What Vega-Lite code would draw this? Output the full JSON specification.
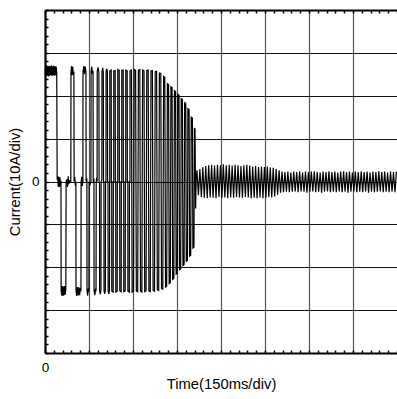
{
  "$schema": "https://vega.github.io/schema/vega-lite/v6.json",
  "width": 352,
  "height": 343,
  "autosize": "none",
  "padding": {"left": 45, "top": 10, "right": 0, "bottom": 46},
  "background": "white",
  "config": {
    "view": {"stroke": null},
    "font": "Liberation Sans",
    "axis": {
      "labelFont": "Liberation Sans",
      "titleFont": "Liberation Sans",
      "labelColor": "black",
      "titleColor": "black",
      "titleFontWeight": "normal",
      "domainColor": "black",
      "tickColor": "black",
      "labelFlush": false,
      "labelOverlap": false,
      "labelBound": false
    }
  },
  "data": {
    "values": [
      {"t": 0.5, "v": 25.0}, {"t": 2, "v": 26.9}, {"t": 4, "v": 24.6}, {"t": 6, "v": 27.1}, {"t": 8, "v": 24.7},
      {"t": 10, "v": 26.9}, {"t": 12, "v": 24.5}, {"t": 14, "v": 27.0}, {"t": 16, "v": 24.7}, {"t": 18, "v": 26.9},
      {"t": 20, "v": 24.8}, {"t": 22, "v": 27.1}, {"t": 24, "v": 24.6}, {"t": 26, "v": 26.9}, {"t": 28, "v": 24.8},
      {"t": 30, "v": 27.0}, {"t": 32, "v": 24.7}, {"t": 34, "v": 26.9}, {"t": 36, "v": 24.8}, {"t": 38, "v": 26.8},
      {"t": 40, "v": 25.4},
      {"t": 41.5, "v": 0.4}, {"t": 43, "v": 1.3}, {"t": 45, "v": -1.2}, {"t": 47, "v": 1.1}, {"t": 49, "v": -1.3},
      {"t": 51, "v": 1.0}, {"t": 53, "v": -1.1}, {"t": 54.5, "v": 0.2},
      {"t": 55, "v": -25.4}, {"t": 57, "v": -26.6}, {"t": 59, "v": -24.4}, {"t": 61, "v": -26.7}, {"t": 63, "v": -24.5},
      {"t": 65, "v": -26.5}, {"t": 67, "v": -24.4}, {"t": 69, "v": -26.4}, {"t": 71, "v": -25.2},
      {"t": 72, "v": 0}, {"t": 75, "v": 0.5}, {"t": 77, "v": -1.3}, {"t": 79, "v": 1.2}, {"t": 81, "v": -0.6},
      {"t": 84, "v": 0.2}, {"t": 88, "v": 0},
      {"t": 88.6, "v": 25.4}, {"t": 90.5, "v": 26.9}, {"t": 92.5, "v": 24.8}, {"t": 94.5, "v": 26.8}, {"t": 96.5, "v": 24.9},
      {"t": 98.5, "v": 25.6},
      {"t": 99.3, "v": 0}, {"t": 101.5, "v": 1.1}, {"t": 103.5, "v": -1.0}, {"t": 105.3, "v": 0},
      {"t": 105.7, "v": -25.5}, {"t": 108, "v": -26.7}, {"t": 110.5, "v": -24.6}, {"t": 113, "v": -26.6},
      {"t": 115.5, "v": -24.7}, {"t": 118, "v": -26.5}, {"t": 120.5, "v": -24.8}, {"t": 122.6, "v": -25.6},
      {"t": 123.2, "v": 0}, {"t": 125, "v": 1.1}, {"t": 127, "v": -1.0}, {"t": 129.2, "v": 0},
      {"t": 129.5, "v": 25.5}, {"t": 132, "v": 26.9}, {"t": 134.5, "v": 25.0}, {"t": 137, "v": 26.8}, {"t": 139.6, "v": 25.6},
      {"t": 140.2, "v": 0}, {"t": 142.8, "v": 0.7},
      {"t": 143.2, "v": -25.4}, {"t": 145.5, "v": -26.6}, {"t": 147.8, "v": -24.9}, {"t": 149.8, "v": -25.7},
      {"t": 150.4, "v": 0}, {"t": 153, "v": -0.9}, {"t": 156.6, "v": 0},
      {"t": 157, "v": 25.6}, {"t": 159.5, "v": 26.8}, {"t": 161.8, "v": 25.1}, {"t": 163.8, "v": 25.8},
      {"t": 164.4, "v": 0}, {"t": 166.9, "v": 0.3},
      {"t": 167.3, "v": -25.5}, {"t": 170, "v": -26.5}, {"t": 172.5, "v": -25.0}, {"t": 174, "v": -25.6},
      {"t": 174.6, "v": 0}, {"t": 176.5, "v": 0.9}, {"t": 177.7, "v": 0},
      {"t": 178, "v": 25.7}, {"t": 181, "v": 26.6}, {"t": 183.8, "v": 25.4},
      {"t": 184.4, "v": 0}, {"t": 185.9, "v": -0.4},
      {"t": 186.2, "v": -25.5}, {"t": 188.8, "v": -26.3}, {"t": 190.8, "v": -25.3},
      {"t": 191.4, "v": 0}, {"t": 193.8, "v": 0.3},
      {"t": 194.2, "v": 25.6}, {"t": 196.8, "v": 26.5}, {"t": 198.8, "v": 25.5},
      {"t": 199.4, "v": 0}, {"t": 200.8, "v": 0},
      {"t": 201.2, "v": -25.6}, {"t": 203.8, "v": -26.2}, {"t": 205.8, "v": -25.3},
      {"t": 206.4, "v": 0}, {"t": 207.8, "v": 0},
      {"t": 208.2, "v": 25.7}, {"t": 210.8, "v": 26.3}, {"t": 212.8, "v": 25.5},
      {"t": 213.3, "v": 0}, {"t": 214.8, "v": 0},
      {"t": 215.2, "v": -25.5}, {"t": 217.8, "v": -26.2}, {"t": 219.8, "v": -25.4},
      {"t": 220.3, "v": 0}, {"t": 220.8, "v": 0},
      {"t": 220.9, "v": 25.8}, {"t": 225.7, "v": 26.0}, {"t": 226.2, "v": 0}, {"t": 227.5, "v": 0},
      {"t": 227.7, "v": -25.6}, {"t": 232.5, "v": -25.8}, {"t": 233, "v": 0}, {"t": 234.3, "v": 0},
      {"t": 234.5, "v": 25.8}, {"t": 239.3, "v": 25.9}, {"t": 239.8, "v": 0}, {"t": 241.1, "v": 0},
      {"t": 241.35, "v": -25.8}, {"t": 246.15, "v": -25.6}, {"t": 246.6, "v": 0}, {"t": 248, "v": 0},
      {"t": 248.2, "v": 26.1}, {"t": 253, "v": 25.9}, {"t": 253.5, "v": 0}, {"t": 254.8, "v": 0},
      {"t": 255.0, "v": -25.5}, {"t": 259.8, "v": -25.7}, {"t": 260.3, "v": 0}, {"t": 261.6, "v": 0},
      {"t": 261.8, "v": 25.9}, {"t": 266.6, "v": 26.0}, {"t": 267.1, "v": 0}, {"t": 268.4, "v": 0},
      {"t": 268.6, "v": -25.7}, {"t": 273.4, "v": -25.5}, {"t": 273.9, "v": 0}, {"t": 275.2, "v": 0},
      {"t": 275.4, "v": 26.0}, {"t": 280.2, "v": 25.8}, {"t": 280.7, "v": 0}, {"t": 282.4, "v": 0},
      {"t": 282.6, "v": -25.6}, {"t": 287.4, "v": -25.8}, {"t": 287.9, "v": 0}, {"t": 289.6, "v": 0},
      {"t": 289.8, "v": 25.8}, {"t": 294.6, "v": 26.0}, {"t": 297.0, "v": -25.8}, {"t": 301.7, "v": -25.6},
      {"t": 304.1, "v": 26.1}, {"t": 308.9, "v": 25.9}, {"t": 311.3, "v": -25.5}, {"t": 316.0, "v": -25.7},
      {"t": 318.4, "v": 25.9}, {"t": 323.2, "v": 26.1}, {"t": 325.6, "v": -25.6}, {"t": 330.3, "v": -25.8},
      {"t": 332.7, "v": 26.0}, {"t": 337.5, "v": 25.8}, {"t": 339.9, "v": -25.7}, {"t": 344.6, "v": -25.5},
      {"t": 347.0, "v": 25.9}, {"t": 351.8, "v": 26.0}, {"t": 354.2, "v": -25.5}, {"t": 358.9, "v": -25.7},
      {"t": 361.3, "v": 25.8}, {"t": 366.1, "v": 25.9}, {"t": 368.5, "v": -25.4}, {"t": 373.3, "v": -25.6},
      {"t": 375.7, "v": 25.6}, {"t": 380.5, "v": 25.7}, {"t": 382.9, "v": -25.2}, {"t": 387.6, "v": -25.4},
      {"t": 390.0, "v": 25.3}, {"t": 394.8, "v": 25.2}, {"t": 397.2, "v": -25.0}, {"t": 401.6, "v": -25.1},
      {"t": 404.4, "v": 24.5}, {"t": 408.4, "v": 24.3}, {"t": 410.9, "v": -24.6}, {"t": 414.8, "v": -24.4},
      {"t": 417.3, "v": 22.8}, {"t": 421.3, "v": 22.6}, {"t": 423.3, "v": -23.8}, {"t": 427.2, "v": -23.6},
      {"t": 429.2, "v": 22.1}, {"t": 433.2, "v": 21.9}, {"t": 435.2, "v": -22.8}, {"t": 439.2, "v": -22.6},
      {"t": 441.2, "v": 21.2}, {"t": 445.2, "v": 21.0}, {"t": 447.0, "v": -21.6}, {"t": 451.0, "v": -21.4},
      {"t": 452.8, "v": 20.3}, {"t": 456.8, "v": 20.1}, {"t": 458.6, "v": -20.6}, {"t": 462.6, "v": -20.4},
      {"t": 464.4, "v": 19.3}, {"t": 468.4, "v": 19.1}, {"t": 470.2, "v": -19.6}, {"t": 474.2, "v": -19.4},
      {"t": 476.0, "v": 18.4}, {"t": 480.0, "v": 18.2}, {"t": 481.6, "v": -18.6}, {"t": 485.6, "v": -18.4},
      {"t": 487.2, "v": 17.0}, {"t": 491.2, "v": 16.8}, {"t": 492.9, "v": -17.4}, {"t": 496.8, "v": -17.2},
      {"t": 498.5, "v": 15.0}, {"t": 502.5, "v": 14.8}, {"t": 504.2, "v": -15.5}, {"t": 507.8, "v": -15.3},
      {"t": 509.5, "v": 12.5}, {"t": 511.5, "v": 12.2}, {"t": 513.5, "v": -6.3}, {"t": 515.5, "v": 0.8},
      {"t": 518, "v": 2.6}, {"t": 523, "v": -3.2}, {"t": 528, "v": 2.9}, {"t": 533, "v": -3.6}, {"t": 538, "v": 3.3},
      {"t": 543, "v": -3.8}, {"t": 548, "v": 3.6}, {"t": 553, "v": -3.9}, {"t": 558, "v": 3.8}, {"t": 563, "v": -3.7},
      {"t": 568, "v": 3.9}, {"t": 573, "v": -3.8}, {"t": 578, "v": 3.7}, {"t": 583, "v": -3.9}, {"t": 588, "v": 3.9},
      {"t": 593, "v": -3.6}, {"t": 598, "v": 3.8}, {"t": 603, "v": -3.8}, {"t": 608, "v": 4.0}, {"t": 613, "v": -3.7},
      {"t": 618, "v": 3.8}, {"t": 623, "v": -3.9}, {"t": 628, "v": 3.9}, {"t": 633, "v": -3.7}, {"t": 638, "v": 3.7},
      {"t": 643, "v": -3.8}, {"t": 648, "v": 3.9}, {"t": 653, "v": -3.6}, {"t": 658, "v": 3.8}, {"t": 663, "v": -3.7},
      {"t": 668, "v": 3.6}, {"t": 673, "v": -3.8}, {"t": 678, "v": 3.8}, {"t": 683, "v": -3.6}, {"t": 688, "v": 3.9},
      {"t": 693, "v": -3.7}, {"t": 698, "v": 3.7}, {"t": 703, "v": -3.9}, {"t": 708, "v": 3.5}, {"t": 713, "v": -3.8},
      {"t": 718, "v": 3.6}, {"t": 723, "v": -3.9}, {"t": 728, "v": 3.4}, {"t": 733, "v": -3.7}, {"t": 738, "v": 3.5},
      {"t": 743, "v": -3.9}, {"t": 748, "v": 3.4}, {"t": 753, "v": -3.8}, {"t": 758, "v": 3.5}, {"t": 763, "v": -3.6},
      {"t": 768, "v": 3.3}, {"t": 773, "v": -3.7}, {"t": 778, "v": 3.2}, {"t": 783, "v": -3.5}, {"t": 788, "v": 2.9},
      {"t": 793, "v": -3.1}, {"t": 798, "v": 2.6},
      {"t": 803, "v": -2.6}, {"t": 808, "v": 2.3}, {"t": 813, "v": -2.5}, {"t": 818, "v": 2.2}, {"t": 823, "v": -2.4},
      {"t": 828, "v": 2.3}, {"t": 833, "v": -2.5}, {"t": 838, "v": 2.1}, {"t": 843, "v": -2.4}, {"t": 848, "v": 2.3},
      {"t": 853, "v": -2.3}, {"t": 858, "v": 2.2}, {"t": 863, "v": -2.5}, {"t": 868, "v": 2.4}, {"t": 873, "v": -2.3},
      {"t": 878, "v": 2.1}, {"t": 883, "v": -2.4}, {"t": 888, "v": 2.3}, {"t": 893, "v": -2.6}, {"t": 898, "v": 2.2},
      {"t": 903, "v": -2.4}, {"t": 908, "v": 2.3}, {"t": 913, "v": -2.3}, {"t": 918, "v": 2.4}, {"t": 923, "v": -2.5},
      {"t": 928, "v": 2.2}, {"t": 933, "v": -2.4}, {"t": 938, "v": 2.1}, {"t": 943, "v": -2.6}, {"t": 948, "v": 2.3},
      {"t": 953, "v": -2.4}, {"t": 958, "v": 2.2}, {"t": 963, "v": -2.3}, {"t": 968, "v": 2.4}, {"t": 973, "v": -2.5},
      {"t": 978, "v": 2.2}, {"t": 983, "v": -2.4}, {"t": 988, "v": 2.3}, {"t": 993, "v": -2.5}, {"t": 998, "v": 2.1},
      {"t": 1003, "v": -2.3}, {"t": 1008, "v": 2.3}, {"t": 1013, "v": -2.5}, {"t": 1018, "v": 2.4}, {"t": 1023, "v": -2.4},
      {"t": 1028, "v": 2.2}, {"t": 1033, "v": -2.6}, {"t": 1038, "v": 2.3}, {"t": 1043, "v": -2.4}, {"t": 1048, "v": 2.1},
      {"t": 1053, "v": -2.3}, {"t": 1058, "v": 2.3}, {"t": 1063, "v": -2.5}, {"t": 1068, "v": 2.2}, {"t": 1073, "v": -2.4},
      {"t": 1078, "v": 2.4}, {"t": 1083, "v": -2.5}, {"t": 1088, "v": 2.2}, {"t": 1093, "v": -2.3}, {"t": 1098, "v": 2.3},
      {"t": 1103, "v": -2.6}, {"t": 1108, "v": 2.1}, {"t": 1113, "v": -2.4}, {"t": 1118, "v": 2.3}, {"t": 1123, "v": -2.5},
      {"t": 1128, "v": 2.2}, {"t": 1133, "v": -2.4}, {"t": 1138, "v": 2.4}, {"t": 1143, "v": -2.3}, {"t": 1148, "v": 2.2},
      {"t": 1153, "v": -2.5}, {"t": 1158, "v": 2.3}, {"t": 1163, "v": -2.4}, {"t": 1168, "v": 2.1}, {"t": 1173, "v": -2.5},
      {"t": 1178, "v": 2.3}, {"t": 1183, "v": -2.4}, {"t": 1188, "v": 2.2}, {"t": 1193, "v": -2.5}, {"t": 1198, "v": 2.3}
    ]
  },
  "encoding": {
    "x": {"field": "t", "type": "quantitative", "scale": {"domain": [0, 1200], "nice": false, "zero": false}},
    "y": {"field": "v", "type": "quantitative", "scale": {"domain": [-40, 40], "nice": false}}
  },
  "layer": [
    {
      "description": "division grid: 150 ms and 10 A per division",
      "mark": {"type": "line", "opacity": 0},
      "encoding": {
        "x": {"field": "t", "type": "quantitative", "axis": {
          "orient": "bottom", "values": [150, 300, 450, 600, 750, 900, 1050],
          "grid": true, "gridColor": "#555555", "gridWidth": 1.2, "gridOpacity": 1,
          "domain": false, "ticks": false, "labels": false, "title": null}},
        "y": {"field": "v", "type": "quantitative", "axis": {
          "orient": "left", "values": [-30, -20, -10, 0, 10, 20, 30],
          "grid": true, "gridColor": "#111111", "gridWidth": 1, "gridOpacity": 1,
          "domain": false, "ticks": false, "labels": false, "title": null}}
      }
    },
    {
      "description": "current trace",
      "mark": {"type": "line", "color": "black", "strokeWidth": 1.2, "interpolate": "linear"},
      "encoding": {
        "x": {"field": "t", "type": "quantitative", "axis": {
          "orient": "bottom",
          "values": [0, 30, 60, 90, 120, 150, 180, 210, 240, 270, 300, 330, 360, 390, 420, 450, 480, 510, 540, 570, 600, 630, 660, 690, 720, 750, 780, 810, 840, 870, 900, 930, 960, 990, 1020, 1050, 1080, 1110, 1140, 1170, 1200],
          "grid": false, "domain": true, "domainWidth": 2.2, "ticks": true, "tickSize": -3, "tickWidth": 1.5,
          "labelExpr": "datum.value === 0 ? '0' : ''", "labelFontSize": 13.5, "labelPadding": 10,
          "title": "Time(150ms/div)", "titleFontSize": 14.8, "titlePadding": 3}},
        "y": {"field": "v", "type": "quantitative", "axis": {
          "orient": "left",
          "values": [-40, -38, -36, -34, -32, -30, -28, -26, -24, -22, -20, -18, -16, -14, -12, -10, -8, -6, -4, -2, 0, 2, 4, 6, 8, 10, 12, 14, 16, 18, 20, 22, 24, 26, 28, 30, 32, 34, 36, 38, 40],
          "grid": false, "domain": true, "domainWidth": 2.2, "ticks": true, "tickSize": -3, "tickWidth": 1.5,
          "labelExpr": "datum.value === 0 ? '0' : ''", "labelFontSize": 13.5, "labelPadding": 9,
          "title": "Current(10A/div)", "titleFontSize": 14.8, "titlePadding": 9}}
      }
    },
    {
      "description": "top frame edge with inward ticks",
      "mark": {"type": "line", "opacity": 0},
      "encoding": {
        "x": {"field": "t", "type": "quantitative", "axis": {
          "orient": "top",
          "values": [0, 30, 60, 90, 120, 150, 180, 210, 240, 270, 300, 330, 360, 390, 420, 450, 480, 510, 540, 570, 600, 630, 660, 690, 720, 750, 780, 810, 840, 870, 900, 930, 960, 990, 1020, 1050, 1080, 1110, 1140, 1170, 1200],
          "grid": false, "domain": true, "domainWidth": 2, "ticks": true, "tickSize": -3, "tickWidth": 1.5,
          "labels": false, "title": null}},
        "y": {"field": "v", "type": "quantitative", "axis": null}
      }
    }
  ],
  "resolve": {"axis": {"x": "independent", "y": "independent"}}
}
